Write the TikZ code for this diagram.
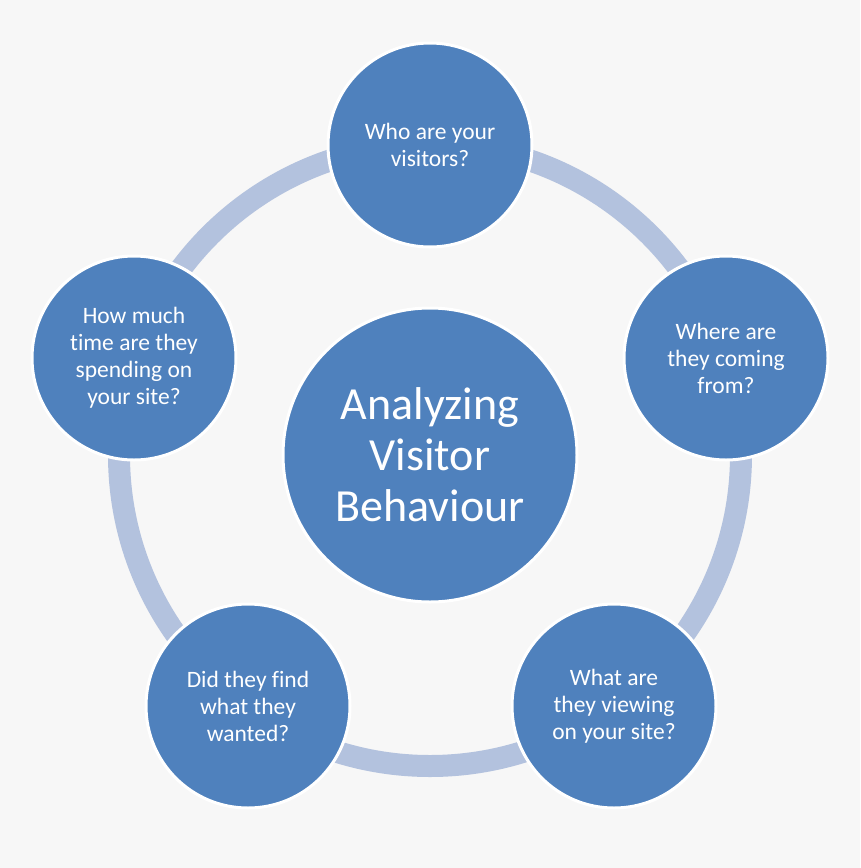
\documentclass[tikz,border=0pt]{standalone}
\usepackage{fontspec}
\setmainfont[Ligatures=NoCommon]{Carlito}
\definecolor{bg}{HTML}{F7F7F7}
\definecolor{ring}{HTML}{B3C2DE}
\definecolor{blue}{HTML}{4F81BD}
\begin{document}
\begin{tikzpicture}[x=1pt,y=-1pt,
  outer/.style={circle,fill=blue,draw=white,line width=3pt,minimum size=204pt,inner sep=0pt,text=white,align=center,font=\fontsize{23.5}{27}\selectfont},
  center/.style={circle,fill=blue,draw=white,line width=3pt,minimum size=294pt,inner sep=0pt,text=white,align=center,font=\fontsize{46}{51}\selectfont}]
\fill[bg] (0,0) rectangle (860,868);
\useasboundingbox (0,0) rectangle (860,868);
\coordinate (o) at (430,455);
\draw[ring,line width=22pt] (o) circle[radius=311];
\node[center] (c) at (o) {Analyzing\\Visitor\\Behaviour};
\node[outer] (n1) at (430,145) {Who are your\\visitors?};
\node[outer] (n2) at (726,358) {Where are\\they coming\\from?};
\node[outer] (n3) at (614,706) {What are\\they viewing\\on your site?};
\node[outer] (n4) at (248,706) {Did they find\\what they\\wanted?};
\node[outer] (n5) at (134,358) {How much\\time are they\\spending on\\your site?};
\end{tikzpicture}
\end{document}
